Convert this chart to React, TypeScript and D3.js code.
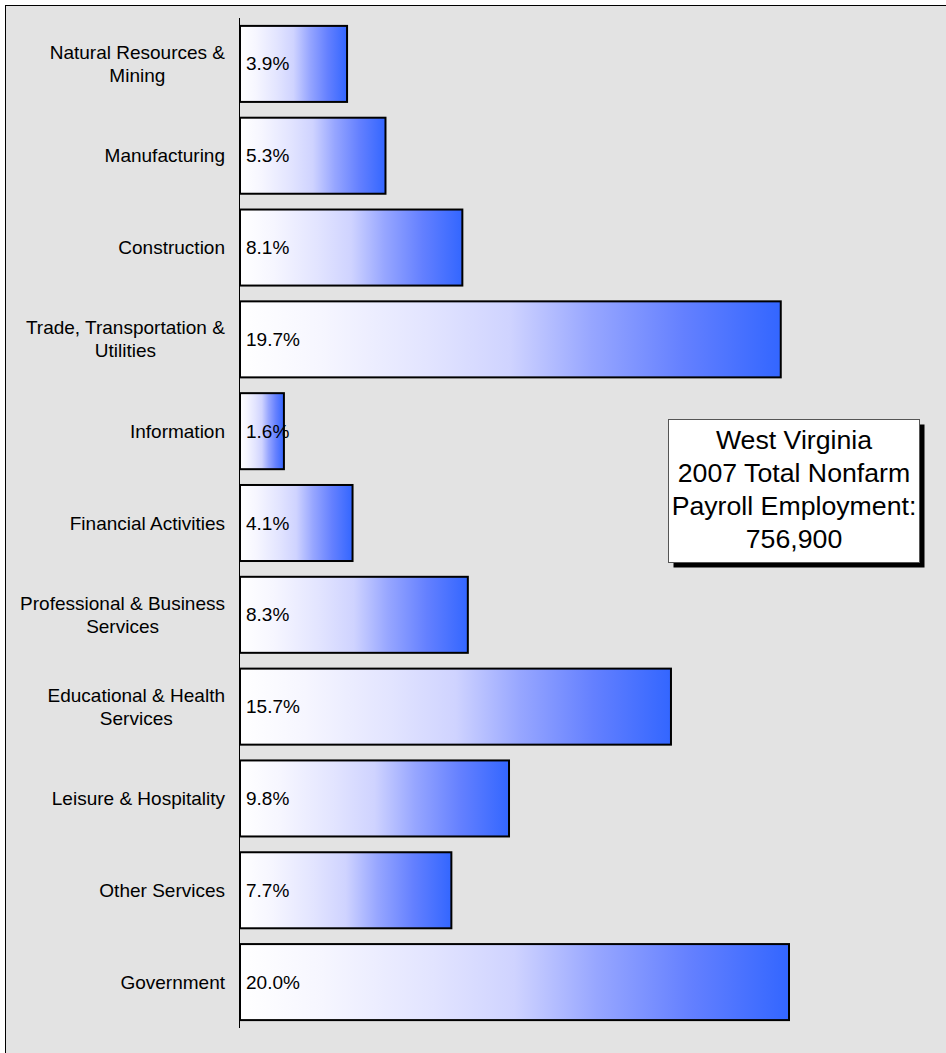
import React from "react";
import * as d3 from "d3";

const categories: string[][] = [
  ["Natural Resources &", "Mining"],
  ["Manufacturing"],
  ["Construction"],
  ["Trade, Transportation &", "Utilities"],
  ["Information"],
  ["Financial Activities"],
  ["Professional & Business", "Services"],
  ["Educational & Health", "Services"],
  ["Leisure & Hospitality"],
  ["Other Services"],
  ["Government"],
];
const values: number[] = [3.9, 5.3, 8.1, 19.7, 1.6, 4.1, 8.3, 15.7, 9.8, 7.7, 20.0];
const boxLines: string[] = ["West Virginia", "2007 Total Nonfarm", "Payroll Employment:", "756,900"];

const W = 946;
const H = 1053;
const FONT = "'Liberation Sans', Arial, Helvetica, sans-serif";
const LABEL_SIZE = 19;

let ctx: CanvasRenderingContext2D | null = null;
function measure(s: string): number {
  if (!ctx) {
    const c = document.createElement("canvas");
    ctx = c.getContext("2d");
  }
  if (!ctx) return s.length * LABEL_SIZE * 0.5;
  ctx.font = `${LABEL_SIZE}px ${FONT}`;
  return ctx.measureText(s).width;
}

export default function App() {
  const x = d3.scaleLinear().domain([0, 20]).range([240, 789]);
  const y = d3
    .scaleBand<number>()
    .domain(d3.range(values.length))
    .range([18, 1028])
    .paddingInner(0.172)
    .paddingOuter(0.086);
  const bw = y.bandwidth();

  const box = { x: 668.5, y: 419.5, w: 251, h: 143 };
  const lineH = 33;
  const labelRight = 225;

  return (
    <svg
      width={W}
      height={H}
      style={{ position: "absolute", left: 0, top: 0, display: "block" }}
    >
      <defs>
        <linearGradient id="barGrad" x1="0" x2="1" y1="0" y2="0">
          <stop offset="0" stopColor="#ffffff" />
          <stop offset="0.15" stopColor="#f6f6ff" />
          <stop offset="0.35" stopColor="#e2e4ff" />
          <stop offset="0.5" stopColor="#cfd3ff" />
          <stop offset="0.65" stopColor="#97a6ff" />
          <stop offset="0.82" stopColor="#6480ff" />
          <stop offset="1" stopColor="#3366ff" />
        </linearGradient>
      </defs>
      <rect x={0} y={0} width={W} height={H} fill="#ffffff" />
      <rect x={5} y={5} width={W} height={H} fill="#e3e3e3" />
      <line x1={5.5} y1={5} x2={5.5} y2={H} stroke="#000" strokeWidth={1} />
      <line x1={5} y1={5.5} x2={W} y2={5.5} stroke="#000" strokeWidth={1} />

      {values.map((v, i) => {
        const y0 = y(i)!;
        return (
          <rect
            key={i}
            x={x(0)}
            y={y0}
            width={x(v) - x(0)}
            height={bw}
            fill="url(#barGrad)"
            stroke="#000"
            strokeWidth={2}
          />
        );
      })}

      <line x1={239.5} y1={18} x2={239.5} y2={1028} stroke="#000" strokeWidth={1} />

      {values.map((v, i) => {
        const cy = y(i)! + bw / 2;
        const lines = categories[i];
        const lh = 23;
        const maxW = Math.max(...lines.map(measure));
        const cx = labelRight - maxW / 2;
        return (
          <g key={"t" + i} fontFamily={FONT} fontSize={LABEL_SIZE} fill="#000">
            {lines.map((ln, j) => (
              <text
                key={j}
                x={lines.length > 1 ? cx : labelRight}
                y={cy + (j - (lines.length - 1) / 2) * lh}
                textAnchor={lines.length > 1 ? "middle" : "end"}
                dominantBaseline="central"
              >
                {ln}
              </text>
            ))}
            <text x={246} y={cy} dominantBaseline="central">
              {v.toFixed(1) + "%"}
            </text>
          </g>
        );
      })}

      <rect x={box.x + 5} y={box.y + 5} width={box.w} height={box.h} fill="#000" />
      <rect
        x={box.x}
        y={box.y}
        width={box.w}
        height={box.h}
        fill="#ffffff"
        stroke="#555"
        strokeWidth={1}
      />
      {boxLines.map((ln, j) => (
        <text
          key={j}
          x={box.x + box.w / 2}
          y={box.y + box.h / 2 + (j - 1.5) * lineH - 2}
          textAnchor="middle"
          dominantBaseline="central"
          fontFamily={FONT}
          fontSize={26.7}
          fill="#000"
        >
          {ln}
        </text>
      ))}
    </svg>
  );
}
